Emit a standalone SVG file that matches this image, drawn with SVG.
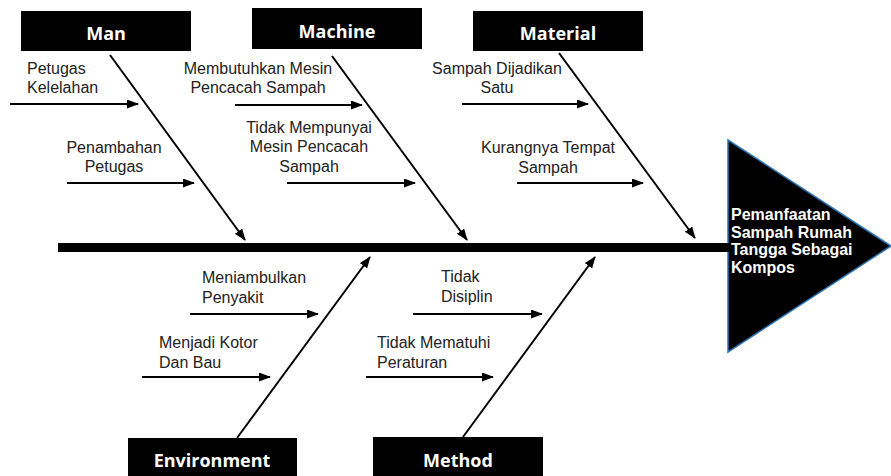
<svg xmlns="http://www.w3.org/2000/svg" width="891" height="476" viewBox="0 0 891 476">
<style>
.box{fill:#000;}
.bt{font-family:"Open Sans",sans-serif;font-weight:bold;font-size:18px;fill:#fff;text-anchor:middle;}
.t{font-family:"Liberation Sans",Arial,sans-serif;font-size:16px;fill:#222;}
.c{text-anchor:middle;}
.ln{stroke:#000;stroke-width:2;fill:none;marker-end:url(#ah);}
.ht{font-family:"Liberation Sans",Arial,sans-serif;font-weight:bold;font-size:16px;fill:#fff;}
</style>
<defs>
<marker id="ah" markerUnits="userSpaceOnUse" markerWidth="12" markerHeight="10" refX="11" refY="4.5" orient="auto">
<path d="M0,0 L12,4.5 L0,9 z" fill="#000"/>
</marker>
</defs>
<rect width="891" height="476" fill="#fff"/>
<g id="head">
<polygon points="728,140 891,246 728,352" fill="#000" stroke="#2e75b6" stroke-width="1.5"/>
<text class="ht" x="731" y="220">Pemanfaatan</text>
<text class="ht" x="731" y="237.5">Sampah Rumah</text>
<text class="ht" x="731" y="255">Tangga Sebagai</text>
<text class="ht" x="731" y="272.5">Kompos</text>
</g>
<g id="spine"><rect x="58" y="243" width="671" height="9" fill="#000"/></g>
<g id="man"><rect class="box" x="21" y="11" width="170" height="40"/><text class="bt" x="106" y="40">Man</text></g>
<g id="machine"><rect class="box" x="252" y="8" width="170" height="41"/><text class="bt" x="337" y="38">Machine</text></g>
<g id="material"><rect class="box" x="473" y="11" width="170" height="40"/><text class="bt" x="558" y="40">Material</text></g>
<g id="environment"><rect class="box" x="128" y="438" width="169" height="40"/><text class="bt" x="212" y="467">Environment</text></g>
<g id="method"><rect class="box" x="373" y="437" width="170" height="41"/><text class="bt" x="458" y="467">Method</text></g>
<g id="labels">
<text class="t" x="27" y="74">Petugas</text>
<text class="t" x="27" y="92.7">Kelelahan</text>
<text class="t c" x="114" y="153">Penambahan</text>
<text class="t c" x="114" y="172">Petugas</text>
<text class="t c" x="258" y="74">Membutuhkan Mesin</text>
<text class="t c" x="258" y="92.7">Pencacah Sampah</text>
<text class="t c" x="309" y="133">Tidak Mempunyai</text>
<text class="t c" x="309" y="152">Mesin Pencacah</text>
<text class="t c" x="309" y="171.5">Sampah</text>
<text class="t c" x="497" y="74">Sampah Dijadikan</text>
<text class="t c" x="497" y="92.7">Satu</text>
<text class="t c" x="548" y="153">Kurangnya Tempat</text>
<text class="t c" x="548" y="172.5">Sampah</text>
<text class="t" x="202" y="283">Meniambulkan</text>
<text class="t" x="202" y="302.7">Penyakit</text>
<text class="t" x="159" y="348">Menjadi Kotor</text>
<text class="t" x="159" y="368">Dan Bau</text>
<text class="t" x="441" y="282">Tidak</text>
<text class="t" x="441" y="302">Disiplin</text>
<text class="t" x="377" y="347.5">Tidak Mematuhi</text>
<text class="t" x="377" y="367.5">Peraturan</text>
</g>
<g id="connectors">
<line class="ln" x1="110" y1="55" x2="245" y2="240"/>
<line class="ln" x1="332" y1="56" x2="467" y2="240"/>
<line class="ln" x1="559" y1="53" x2="695" y2="238"/>
<line class="ln" x1="237" y1="438" x2="370" y2="257"/>
<line class="ln" x1="463" y1="437" x2="595" y2="257"/>
<line class="ln" x1="10" y1="104" x2="138" y2="104"/>
<line class="ln" x1="67" y1="183" x2="194" y2="183"/>
<line class="ln" x1="235" y1="105" x2="362" y2="105"/>
<line class="ln" x1="287" y1="183" x2="415" y2="183"/>
<line class="ln" x1="462" y1="104" x2="588" y2="104"/>
<line class="ln" x1="517" y1="183" x2="643" y2="183"/>
<line class="ln" x1="190" y1="314" x2="318" y2="314"/>
<line class="ln" x1="142" y1="377" x2="270" y2="377"/>
<line class="ln" x1="413" y1="314" x2="542" y2="314"/>
<line class="ln" x1="366" y1="377" x2="493" y2="377"/>
</g>
</svg>
